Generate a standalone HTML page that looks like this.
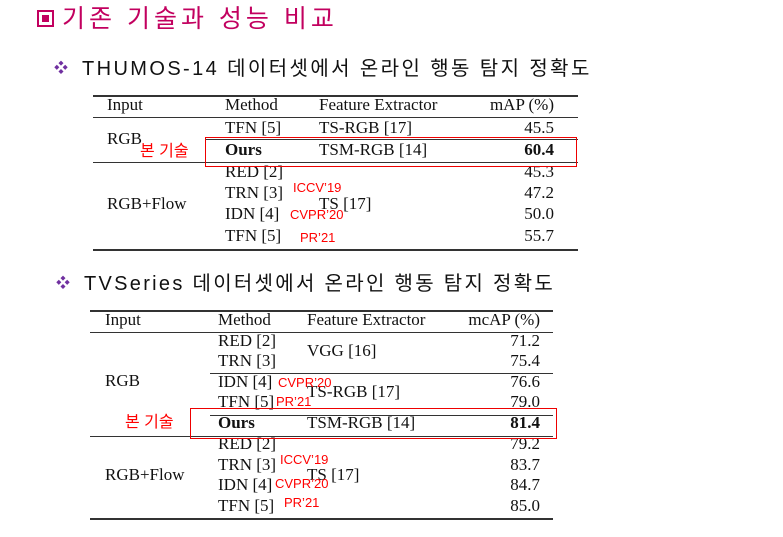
<!DOCTYPE html>
<html><head><meta charset="utf-8"><style>
body{margin:0;width:783px;height:537px;background:#fff;position:relative;overflow:hidden;font-family:"Liberation Serif",serif}
.t{position:absolute;line-height:20px;white-space:nowrap;font-size:17px;color:#111}
.r{text-align:right}
.k{font-family:"Liberation Sans","Noto Sans CJK KR",sans-serif}
.a{position:absolute;line-height:16px;font-size:13px;color:#f00;font-family:"Liberation Sans",sans-serif;white-space:nowrap}
.l{position:absolute;background:#333;height:1px}
.box{position:absolute;border:1.5px solid #e00;box-sizing:border-box}
b{font-weight:bold}
</style></head><body>
<div style="position:absolute;left:37px;top:10px;width:17px;height:17px;border:2px solid #c2005f;box-sizing:border-box"><div style="position:absolute;left:3px;top:3px;width:7px;height:7px;background:#c2005f"></div></div>
<div class="t k" style="left:62px;top:3px;font-size:25px;line-height:32px;color:#c2005f;letter-spacing:4px">기존 기술과 성능 비교</div>

<div class="t k" style="left:54px;top:58px;color:#7030a0;font-size:14px">❖</div>
<div class="t k" style="left:82px;top:56px;font-size:20px;line-height:26px;color:#111;letter-spacing:2.4px">THUMOS-14 데이터셋에서 온라인 행동 탐지 정확도</div>

<!-- table 1 -->
<div>
<div class="l" style="left:93px;top:95px;width:485px;height:2px"></div>
<div class="l" style="left:93px;top:117px;width:485px"></div>
<div class="l" style="left:205px;top:139px;width:373px"></div>
<div class="l" style="left:93px;top:162px;width:485px"></div>
<div class="l" style="left:93px;top:249px;width:485px;height:2px"></div>
<div class="t" style="left:107px;top:95px">Input</div>
<div class="t" style="left:225px;top:95px">Method</div>
<div class="t" style="left:319px;top:95px">Feature Extractor</div>
<div class="t r" style="right:229px;top:95px">mAP (%)</div>
<div class="t" style="left:107px;top:129px">RGB</div>
<div class="t" style="left:225px;top:118px">TFN [5]</div><div class="t" style="left:319px;top:118px">TS-RGB [17]</div><div class="t r" style="right:229px;top:118px">45.5</div>
<div class="t" style="left:225px;top:140px"><b>Ours</b></div><div class="t" style="left:319px;top:140px">TSM-RGB [14]</div><div class="t r" style="right:229px;top:140px"><b>60.4</b></div>
<div class="t" style="left:107px;top:194px">RGB+Flow</div>
<div class="t" style="left:319px;top:194px">TS [17]</div>
<div class="t" style="left:225px;top:162px">RED [2]</div><div class="t r" style="right:229px;top:162px">45.3</div>
<div class="t" style="left:225px;top:183px">TRN [3]</div><div class="t r" style="right:229px;top:183px">47.2</div>
<div class="t" style="left:225px;top:204px">IDN [4]</div><div class="t r" style="right:229px;top:204px">50.0</div>
<div class="t" style="left:225px;top:226px">TFN [5]</div><div class="t r" style="right:229px;top:226px">55.7</div>
</div>
<div class="box" style="left:205px;top:137px;width:372px;height:30px"></div>
<div class="a k" style="left:140px;top:143px;font-size:16px;line-height:18px">본 기술</div>
<div class="a" style="left:293px;top:180px">ICCV’19</div>
<div class="a" style="left:290px;top:207px">CVPR’20</div>
<div class="a" style="left:300px;top:230px">PR’21</div>

<div class="t k" style="left:56px;top:273px;color:#7030a0;font-size:14px">❖</div>
<div class="t k" style="left:84px;top:271px;font-size:20px;line-height:26px;color:#111;letter-spacing:2.3px">TVSeries 데이터셋에서 온라인 행동 탐지 정확도</div>

<!-- table 2 -->
<div>
<div class="l" style="left:90px;top:310px;width:463px;height:2px"></div>
<div class="l" style="left:90px;top:332px;width:463px"></div>
<div class="l" style="left:210px;top:373px;width:343px"></div>
<div class="l" style="left:210px;top:415px;width:343px"></div>
<div class="l" style="left:90px;top:436px;width:463px"></div>
<div class="l" style="left:90px;top:518px;width:463px;height:2px"></div>
<div class="t" style="left:105px;top:310px">Input</div>
<div class="t" style="left:218px;top:310px">Method</div>
<div class="t" style="left:307px;top:310px">Feature Extractor</div>
<div class="t r" style="right:243px;top:310px">mcAP (%)</div>
<div class="t" style="left:105px;top:371px">RGB</div>
<div class="t" style="left:307px;top:341px">VGG [16]</div>
<div class="t" style="left:307px;top:382px">TS-RGB [17]</div>
<div class="t" style="left:218px;top:331px">RED [2]</div><div class="t r" style="right:243px;top:331px">71.2</div>
<div class="t" style="left:218px;top:351px">TRN [3]</div><div class="t r" style="right:243px;top:351px">75.4</div>
<div class="t" style="left:218px;top:372px">IDN [4]</div><div class="t r" style="right:243px;top:372px">76.6</div>
<div class="t" style="left:218px;top:392px">TFN [5]</div><div class="t r" style="right:243px;top:392px">79.0</div>
<div class="t" style="left:218px;top:413px"><b>Ours</b></div><div class="t" style="left:307px;top:413px">TSM-RGB [14]</div><div class="t r" style="right:243px;top:413px"><b>81.4</b></div>
<div class="t" style="left:105px;top:465px">RGB+Flow</div>
<div class="t" style="left:307px;top:465px">TS [17]</div>
<div class="t" style="left:218px;top:434px">RED [2]</div><div class="t r" style="right:243px;top:434px">79.2</div>
<div class="t" style="left:218px;top:455px">TRN [3]</div><div class="t r" style="right:243px;top:455px">83.7</div>
<div class="t" style="left:218px;top:475px">IDN [4]</div><div class="t r" style="right:243px;top:475px">84.7</div>
<div class="t" style="left:218px;top:496px">TFN [5]</div><div class="t r" style="right:243px;top:496px">85.0</div>
</div>
<div class="box" style="left:190px;top:408px;width:367px;height:31px"></div>
<div class="a k" style="left:125px;top:414px;font-size:16px;line-height:18px">본 기술</div>
<div class="a" style="left:278px;top:375px">CVPR’20</div>
<div class="a" style="left:276px;top:394px">PR’21</div>
<div class="a" style="left:280px;top:452px">ICCV’19</div>
<div class="a" style="left:275px;top:476px">CVPR’20</div>
<div class="a" style="left:284px;top:495px">PR’21</div>
</body></html>
